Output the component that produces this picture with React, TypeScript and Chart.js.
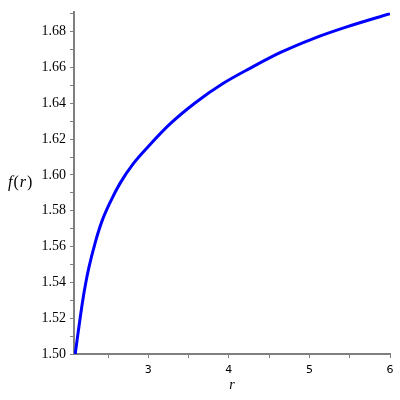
import React, { useEffect, useRef } from "react";
import { Chart, registerables } from "chart.js";

Chart.register(...registerables);

const rValues = [2.093, 2.1277, 2.1562, 2.186, 2.2208, 2.2617, 2.3449, 2.4218, 2.5249, 2.649, 2.8141, 3.0, 3.27, 3.58, 3.931, 4.284, 4.635, 5.049, 5.463, 6.0];
const fValues = [1.5, 1.5115, 1.5207, 1.5298, 1.539, 1.5481, 1.5628, 1.5738, 1.5846, 1.5953, 1.6063, 1.6159, 1.6285, 1.6402, 1.6512, 1.6601, 1.6683, 1.6762, 1.6827, 1.6901];

const xMin = 2.078;
const xMax = 6;
const yMin = 1.5;
const yMax = 1.6908;
const xTickValues = [2.5, 3, 3.5, 4, 4.5, 5, 5.5, 6];
const xTickLabels: Record<string, string> = { "3": "3", "4": "4", "5": "5", "6": "6" };
const yTickValues = [1.5, 1.51, 1.52, 1.53, 1.54, 1.55, 1.56, 1.57, 1.58, 1.59, 1.6, 1.61, 1.62, 1.63, 1.64, 1.65, 1.66, 1.67, 1.68, 1.69];
const yTickLabels: Record<string, string> = {
  "1.5": "1.50", "1.52": "1.52", "1.54": "1.54", "1.56": "1.56", "1.58": "1.58",
  "1.6": "1.60", "1.62": "1.62", "1.64": "1.64", "1.66": "1.66", "1.68": "1.68",
};
const xTitle = "r";
const yTitleParts = [
  { text: "f", italic: true },
  { text: "(", italic: false },
  { text: "r", italic: true },
  { text: ")", italic: false },
];

const axisGray = "#7f7f7f";
const serif = "'Liberation Serif', 'Times New Roman', serif";

export default function App() {
  const ref = useRef<HTMLCanvasElement | null>(null);
  useEffect(() => {
    document.body.style.margin = "0";
    const canvas = ref.current;
    if (!canvas) return;
    const yTitlePlugin = {
      id: "yTitlePlugin",
      afterDraw(chart: any) {
        const ctx = chart.ctx;
        const area = chart.chartArea;
        const yMid = (area.top + area.bottom) / 2;
        ctx.save();
        ctx.fillStyle = "#000";
        ctx.textAlign = "left";
        ctx.textBaseline = "middle";
        let x = 8;
        for (const p of yTitleParts) {
          ctx.font = `${p.italic ? "italic " : ""}16px ${serif}`;
          ctx.fillText(p.text, x, yMid);
          x += ctx.measureText(p.text).width + 1;
        }
        ctx.restore();
      },
    };
    const chart = new Chart(canvas, {
      type: "line",
      data: {
        datasets: [
          {
            data: rValues.map((r, i) => ({ x: r, y: fValues[i] })),
            borderColor: "#0000ff",
            borderWidth: 3,
            pointRadius: 0,
            cubicInterpolationMode: "monotone",
            fill: false,
          },
        ],
      },
      options: {
        animation: false,
        responsive: false,
        maintainAspectRatio: false,
        layout: { padding: { left: 0, top: 7, right: 10, bottom: 0 } },
        plugins: { legend: { display: false }, tooltip: { enabled: false } },
        scales: {
          x: {
            type: "linear",
            min: xMin,
            max: xMax,
            afterBuildTicks: (scale: any) => {
              scale.ticks = xTickValues.map((v) => ({ value: v }));
            },
            afterFit: (scale: any) => {
              scale.height = 46;
            },
            grid: { drawOnChartArea: false, drawTicks: true, tickLength: 4, color: axisGray, lineWidth: 1 },
            border: { display: true, color: axisGray, width: 2 },
            ticks: {
              autoSkip: false,
              maxRotation: 0,
              padding: 6,
              color: "#000",
              font: { family: "'DejaVu Sans', sans-serif", size: 11 },
              callback: (v: any) => xTickLabels[String(Number(v))] ?? "",
            },
            title: {
              display: true,
              text: xTitle,
              color: "#000",
              font: { family: serif, size: 14, style: "italic" },
              padding: { top: 0, bottom: 6 },
            },
          },
          y: {
            type: "linear",
            min: yMin,
            max: yMax,
            afterBuildTicks: (scale: any) => {
              scale.ticks = yTickValues.map((v) => ({ value: v }));
            },
            afterFit: (scale: any) => {
              scale.width = 74;
            },
            grid: { drawOnChartArea: false, drawTicks: true, tickLength: 4, color: axisGray, lineWidth: 1 },
            border: { display: true, color: axisGray, width: 2 },
            ticks: {
              autoSkip: false,
              padding: 4,
              color: "#000",
              font: { family: serif, size: 14 },
              callback: (v: any) => yTickLabels[String(Math.round(Number(v) * 100) / 100)] ?? "",
            },
          },
        },
      },
      plugins: [yTitlePlugin],
    } as any);
    return () => chart.destroy();
  }, []);
  return (
    <div style={{ width: 400, height: 400, background: "#fff" }}>
      <canvas ref={ref} width={400} height={400} style={{ display: "block" }} />
    </div>
  );
}
